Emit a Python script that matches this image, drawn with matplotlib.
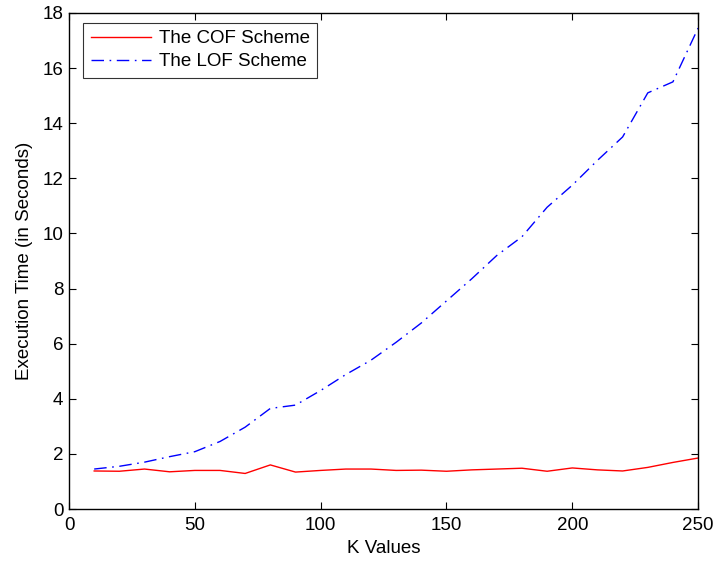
import matplotlib
matplotlib.use("Agg")
import matplotlib.pyplot as plt

plt.rcParams['font.family'] = ['Liberation Sans', 'DejaVu Sans']

k_values = [10, 20, 30, 40, 50, 60, 70, 80, 90, 100, 110, 120, 130, 140, 150,
            160, 170, 180, 190, 200, 210, 220, 230, 240, 250]
cof_times = [1.38, 1.37, 1.45, 1.35, 1.40, 1.40, 1.29, 1.60, 1.34, 1.40, 1.45, 1.45,
             1.40, 1.41, 1.37, 1.42, 1.45, 1.48, 1.37, 1.49, 1.42, 1.38, 1.51, 1.69, 1.85]
lof_times = [1.45, 1.55, 1.70, 1.90, 2.08, 2.45, 2.97, 3.65, 3.77, 4.30, 4.88, 5.40,
             6.05, 6.75, 7.55, 8.35, 9.20, 9.88, 10.95, 11.75, 12.65, 13.50, 15.10, 15.50, 17.45]

FS = 13.5

fig = plt.figure(figsize=(7.16, 5.63), dpi=100)
ax = fig.add_axes([0.0964, 0.0959, 0.8786, 0.8811])

ax.plot(k_values, cof_times, color='red', lw=1.0, label='The COF Scheme')
ax.plot(k_values, lof_times, color='blue', lw=1.0, dashes=(9, 4, 1.2, 4),
        label='The LOF Scheme')

ax.set_xlim(0, 250)
ax.set_ylim(0, 18)
ax.set_xticks(range(0, 251, 50))
ax.set_yticks(range(0, 19, 2))
ax.tick_params(direction='in', top=True, right=True, labelsize=FS, length=5, width=0.8)
ax.tick_params(axis='x', pad=6)
ax.tick_params(axis='y', pad=4)
for s in ax.spines.values():
    s.set_linewidth(1.0)

ax.set_xlabel('K Values', fontsize=FS, labelpad=4)
ax.set_ylabel('Execution Time (in Seconds)', fontsize=FS, labelpad=7)

leg = ax.legend(loc='upper left', bbox_to_anchor=(0.0223, 0.98), fontsize=FS,
                frameon=True, fancybox=False, edgecolor='black', borderaxespad=0,
                handlelength=3.2, borderpad=0.4, labelspacing=0.3, handletextpad=0.45)
leg.get_frame().set_linewidth(0.8)

fig.savefig('out.png', dpi=100)
